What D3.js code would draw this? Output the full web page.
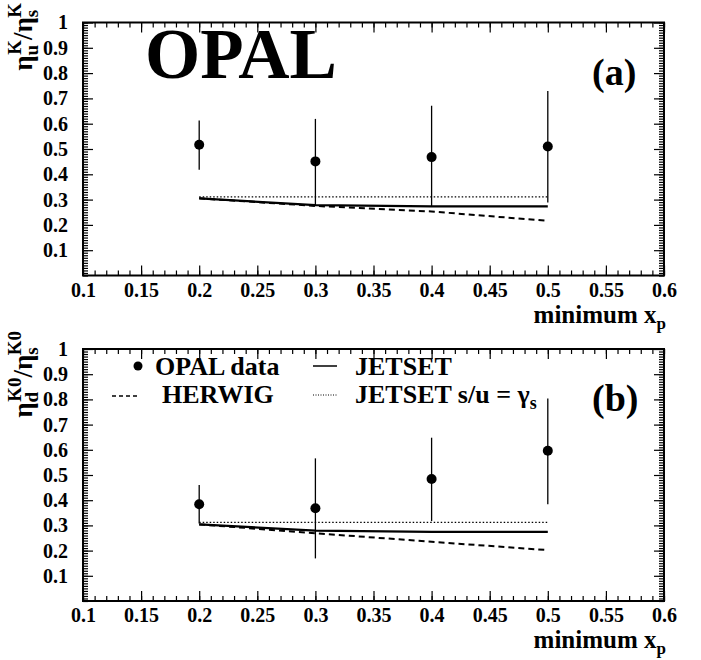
<!DOCTYPE html>
<html>
<head>
<meta charset="utf-8">
<script src="https://cdn.jsdelivr.net/npm/d3@7"></script>
<style>
  body { margin: 0; background: #fff; }
  svg text { font-family: "Liberation Serif", "Times New Roman", serif; font-weight: bold; }
</style>
</head>
<body>
<div id="chart"></div>
<script>
// Tick labels
const xTicks = [0.1, 0.15, 0.2, 0.25, 0.3, 0.35, 0.4, 0.45, 0.5, 0.55, 0.6];
const yTicks = [0.1, 0.2, 0.3, 0.4, 0.5, 0.6, 0.7, 0.8, 0.9, 1];

// minimum x_p cut values
const xCuts = [0.2, 0.3, 0.4, 0.5];

// Panel (a): charged kaons
const opalA = [0.517, 0.451, 0.468, 0.510];
const opalHiA = [0.613, 0.619, 0.671, 0.729];
const opalLoA = [0.418, 0.276, 0.273, 0.289];
const jetsetA = [0.305, 0.278, 0.273, 0.273];
const herwigA = [0.305, 0.275, 0.253, 0.216];
const jetsetGammaA = [0.311, 0.311, 0.311, 0.311];

// Panel (b): neutral kaons
const opalB = [0.384, 0.368, 0.484, 0.596];
const opalHiB = [0.460, 0.566, 0.648, 0.804];
const opalLoB = [0.308, 0.169, 0.317, 0.384];
const jetsetB = [0.304, 0.279, 0.274, 0.274];
const herwigB = [0.304, 0.269, 0.235, 0.202];
const jetsetGammaB = [0.312, 0.312, 0.312, 0.312];

const width = 701, height = 660;
const left = 83, right = 664;

const svg = d3.select("#chart").append("svg")
    .attr("width", width)
    .attr("height", height);

const x = d3.scaleLinear().domain([0.1, 0.6]).range([left, right]);
const fmt = d => String(+d.toFixed(2));

function drawPanel(top, bottom, vals, hi, lo, jetset, herwig, gamma, titleParts, titleTop, tag) {
    const y = d3.scaleLinear().domain([0, 1]).range([bottom, top]);
    const g = svg.append("g");

    // minor ticks
    g.append("g").attr("transform", `translate(0,${bottom})`)
        .call(d3.axisBottom(x).tickValues(x.ticks(50)).tickSize(-5).tickFormat(""));
    g.append("g").attr("transform", `translate(0,${top})`)
        .call(d3.axisTop(x).tickValues(x.ticks(50)).tickSize(-5).tickFormat(""));
    g.append("g").attr("transform", `translate(${left},0)`)
        .call(d3.axisLeft(y).tickValues(y.ticks(100)).tickSize(-5).tickFormat(""));
    g.append("g").attr("transform", `translate(${right},0)`)
        .call(d3.axisRight(y).tickValues(y.ticks(100)).tickSize(-5).tickFormat(""));

    // major ticks
    g.append("g").attr("transform", `translate(0,${bottom})`)
        .call(d3.axisBottom(x).tickValues(xTicks).tickSize(-10).tickPadding(7).tickFormat(fmt));
    g.append("g").attr("transform", `translate(0,${top})`)
        .call(d3.axisTop(x).tickValues(xTicks).tickSize(-10).tickFormat(""));
    g.append("g").attr("transform", `translate(${left},0)`)
        .call(d3.axisLeft(y).tickValues(yTicks).tickSize(-10).tickPadding(15).tickFormat(fmt));
    g.append("g").attr("transform", `translate(${right},0)`)
        .call(d3.axisRight(y).tickValues(yTicks).tickSize(-10).tickFormat(""));

    g.selectAll(".domain").remove();
    g.selectAll(".tick line").attr("stroke", "#000").attr("stroke-width", 1.2);
    g.selectAll(".tick text").attr("fill", "#000").attr("font-size", 20)
        .style("font-family", "'Liberation Serif', serif").style("font-weight", "bold");

    // frame
    g.append("rect")
        .attr("x", left).attr("y", top)
        .attr("width", right - left).attr("height", bottom - top)
        .attr("fill", "none").attr("stroke", "#000").attr("stroke-width", 2);

    // model curves
    const line = vs => d3.line().x((d, i) => x(xCuts[i])).y(d => y(d))(vs);
    g.append("path").attr("d", line(gamma)).attr("fill", "none")
        .attr("stroke", "#000").attr("stroke-width", 1.3).attr("stroke-dasharray", "1.5,2");
    g.append("path").attr("d", line(herwig)).attr("fill", "none")
        .attr("stroke", "#000").attr("stroke-width", 2).attr("stroke-dasharray", "6,4");
    g.append("path").attr("d", line(jetset)).attr("fill", "none")
        .attr("stroke", "#000").attr("stroke-width", 2.2);

    // data with errors
    g.selectAll(".err").data(vals).enter().append("line")
        .attr("x1", (d, i) => x(xCuts[i])).attr("x2", (d, i) => x(xCuts[i]))
        .attr("y1", (d, i) => y(lo[i])).attr("y2", (d, i) => y(hi[i]))
        .attr("stroke", "#000").attr("stroke-width", 1.3);
    g.selectAll(".pt").data(vals).enter().append("circle")
        .attr("cx", (d, i) => x(xCuts[i])).attr("cy", d => y(d))
        .attr("r", 5).attr("fill", "#000");

    // x title
    const xt = g.append("text").attr("x", right + 2).attr("y", bottom + 47)
        .attr("text-anchor", "end").attr("font-size", 25);
    xt.append("tspan").text("minimum x");
    xt.append("tspan").attr("dy", 6).attr("font-size", 17).text("p");

    // y title
    const yt = g.append("text")
        .attr("transform", `translate(32,${titleTop}) rotate(-90)`)
        .attr("text-anchor", "end").attr("font-size", 27);
    titleParts.forEach(p => {
        const t = yt.append("tspan").text(p.t);
        if (p.size) t.attr("font-size", p.size);
        if (p.dy) t.attr("dy", p.dy);
        if (p.dx) t.attr("dx", p.dx);
    });

    // panel tag
    g.append("text").attr("x", 592).attr("y", top + 62)
        .attr("font-size", 38).text(tag);

    return { g, y };
}

const pa = drawPanel(22.5, 275.5, opalA, opalHiA, opalLoA, jetsetA, herwigA, jetsetGammaA, [
    { t: "η" },
    { t: "u", size: 19, dy: 6 },
    { t: "K", size: 19, dy: -17, dx: -10 },
    { t: "/η", dy: 11 },
    { t: "s", size: 19, dy: 6 },
    { t: "K", size: 19, dy: -17, dx: -8 }
], 3, "(a)");

const pb = drawPanel(349, 601, opalB, opalHiB, opalLoB, jetsetB, herwigB, jetsetGammaB, [
    { t: "η" },
    { t: "d", size: 19, dy: 6 },
    { t: "K0", size: 19, dy: -17, dx: -10 },
    { t: "/η", dy: 11 },
    { t: "s", size: 19, dy: 6 },
    { t: "K0", size: 19, dy: -17, dx: -8 }
], 331, "(b)");

// OPAL logo
pa.g.append("text").attr("x", 145).attr("y", 78)
    .attr("font-size", 71).text("OPAL");

// legend in panel (b)
const lg = pb.g.append("g");
lg.append("circle").attr("cx", 138).attr("cy", 366).attr("r", 4.5).attr("fill", "#000");
lg.append("text").attr("x", 155).attr("y", 375).attr("font-size", 26).text("OPAL data");
lg.append("line").attr("x1", 112).attr("x2", 139).attr("y1", 396).attr("y2", 396)
    .attr("stroke", "#000").attr("stroke-width", 1.5).attr("stroke-dasharray", "4,3");
lg.append("text").attr("x", 162).attr("y", 403).attr("font-size", 26).text("HERWIG");
lg.append("line").attr("x1", 313).attr("x2", 337).attr("y1", 366).attr("y2", 366)
    .attr("stroke", "#000").attr("stroke-width", 1.5);
lg.append("text").attr("x", 355).attr("y", 375).attr("font-size", 26).text("JETSET");
lg.append("line").attr("x1", 313).attr("x2", 337).attr("y1", 395).attr("y2", 395)
    .attr("stroke", "#000").attr("stroke-width", 1).attr("stroke-dasharray", "1,1.5");
const lt = lg.append("text").attr("x", 355).attr("y", 403).attr("font-size", 26);
lt.append("tspan").text("JETSET s/u = γ");
lt.append("tspan").attr("dy", 6).attr("font-size", 18).text("s");
</script>
</body>
</html>
